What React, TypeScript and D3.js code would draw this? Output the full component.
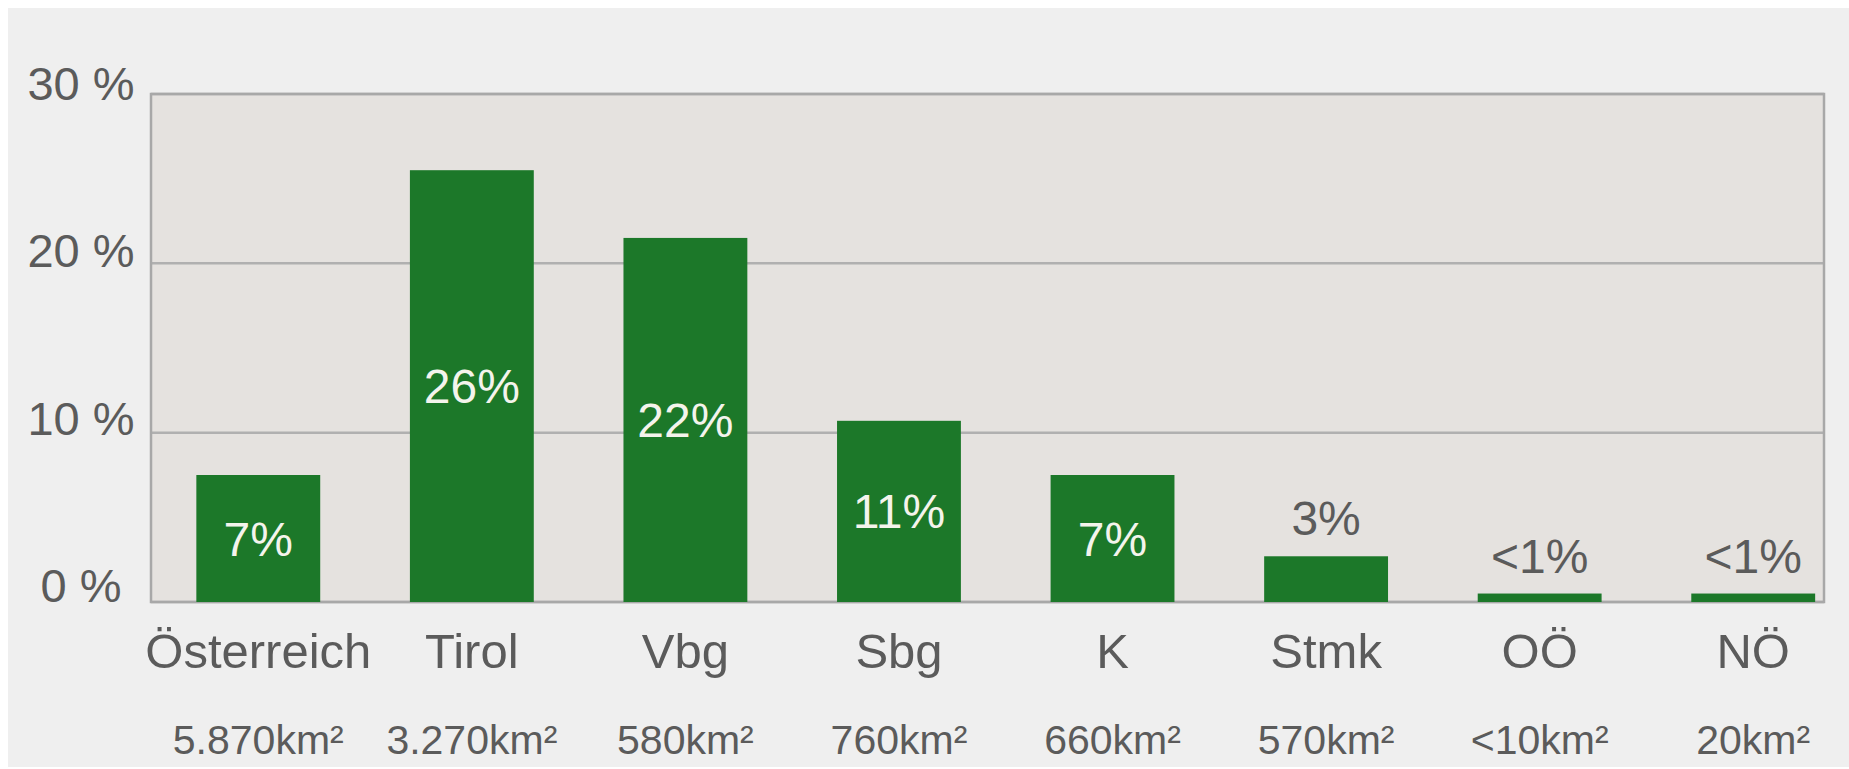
import React from 'react'
import * as d3 from 'd3'

// share of area per region
const CATEGORIES = ['Österreich', 'Tirol', 'Vbg', 'Sbg', 'K', 'Stmk', 'OÖ', 'NÖ']
const SHARE = [7.5, 25.5, 21.5, 10.7, 7.5, 2.7, 0.5, 0.5]
const SHARE_LABELS = ['7%', '26%', '22%', '11%', '7%', '3%', '<1%', '<1%']
const AREA_LABELS = ['5.870km²', '3.270km²', '580km²', '760km²', '660km²', '570km²', '<10km²', '20km²']
const Y_TICKS = [0, 10, 20, 30]

const WIDTH = 1849
const HEIGHT = 769
const FONT = '"Liberation Sans", Arial, Helvetica, sans-serif'
const GREEN = '#1c7829'
const TEXT = '#5b5b5b'

export default function App() {
  const plot = { left: 151, top: 94, right: 1824, bottom: 602 }

  const x = d3.scaleBand<string>()
    .domain(CATEGORIES)
    .range([151.5, 1860])
    .paddingInner(0.42)
    .paddingOuter(0.21)

  const y = d3.scaleLinear()
    .domain([0, 30])
    .range([plot.bottom, plot.top])

  // tick labels sit a little off the gridlines in the original, evenly spaced
  const yLabel = d3.scaleLinear()
    .domain([0, 30])
    .range([602, 100])

  const rows = CATEGORIES.map((c, i) => ({
    name: c,
    value: SHARE[i],
    label: SHARE_LABELS[i],
    area: AREA_LABELS[i],
  }))

  return (
    <>
      <style>{`body { margin: 0; overflow: hidden; }`}</style>
      <svg width={WIDTH} height={HEIGHT} style={{ display: 'block', fontFamily: FONT }}>
        <rect x={0} y={0} width={WIDTH} height={HEIGHT} fill="#ffffff" />
        <rect x={8} y={8} width={WIDTH - 8} height={HEIGHT - 10} fill="#efefef" />

        {/* plot area */}
        <rect
          x={plot.left}
          y={plot.top}
          width={plot.right - plot.left}
          height={plot.bottom - plot.top}
          fill="#e5e2df"
        />

        {/* gridlines */}
        {Y_TICKS.map(t => (
          <line
            key={'g' + t}
            x1={plot.left}
            x2={plot.right}
            y1={y(t)}
            y2={y(t)}
            stroke="#b0b0b0"
            strokeWidth={2.5}
          />
        ))}

        <rect
          x={plot.left}
          y={plot.top}
          width={plot.right - plot.left}
          height={plot.bottom - plot.top}
          fill="none"
          stroke="#a8a8a8"
          strokeWidth={2.5}
        />

        {/* y labels */}
        {Y_TICKS.map(t => (
          <text
            key={'y' + t}
            x={81}
            y={yLabel(t)}
            textAnchor="middle"
            fontSize={47}
            fill={TEXT}
          >
            {t} %
          </text>
        ))}

        {/* bars */}
        {rows.map(d => (
          <rect
            key={'b' + d.name}
            x={x(d.name)}
            y={y(d.value)}
            width={x.bandwidth()}
            height={y(0) - y(d.value)}
            fill={GREEN}
          />
        ))}

        {/* value labels */}
        {rows.map(d => {
          const cx = (x(d.name) ?? 0) + x.bandwidth() / 2
          const inside = d.value > 5
          const ty = inside ? (y(d.value) + y(0)) / 2 + 17 : y(d.value) - 21
          return (
            <text
              key={'v' + d.name}
              x={cx}
              y={ty}
              textAnchor="middle"
              fontSize={48}
              fill={inside ? '#f4f4ec' : TEXT}
            >
              {d.label}
            </text>
          )
        })}

        {/* category labels */}
        {rows.map(d => (
          <text
            key={'c' + d.name}
            x={(x(d.name) ?? 0) + x.bandwidth() / 2}
            y={668}
            textAnchor="middle"
            fontSize={49}
            fill={TEXT}
          >
            {d.name}
          </text>
        ))}

        {/* area labels */}
        {rows.map(d => (
          <text
            key={'a' + d.name}
            x={(x(d.name) ?? 0) + x.bandwidth() / 2}
            y={754}
            textAnchor="middle"
            fontSize={41}
            fill={TEXT}
          >
            {d.area}
          </text>
        ))}
      </svg>
    </>
  )
}
